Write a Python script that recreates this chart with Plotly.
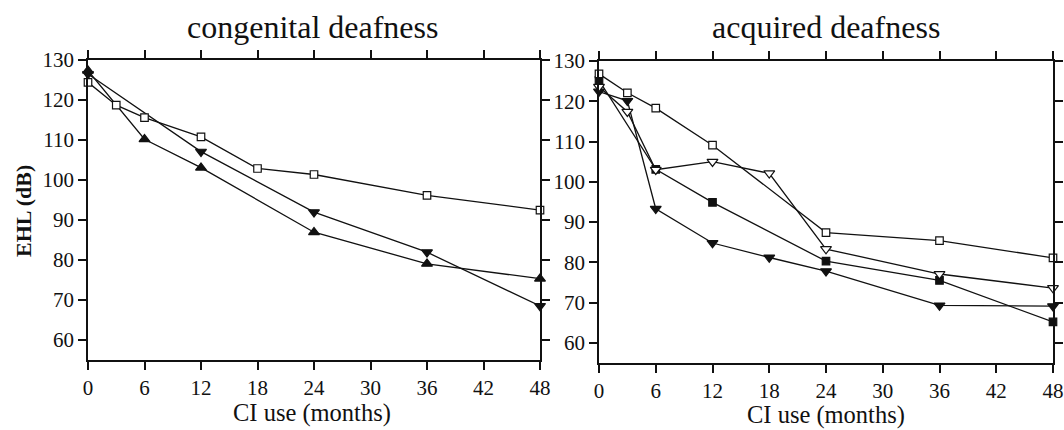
import plotly.graph_objects as go

# Months of CI use and EHL (dB) per group
months_tick = [0, 6, 12, 18, 24, 30, 36, 42, 48]
ehl_tick = [60, 70, 80, 90, 100, 110, 120, 130]

# Congenital deafness
cong_sq_x = [0, 3, 6, 12, 18, 24, 36, 48]
cong_sq_y = [124.3, 118.6, 115.5, 110.7, 102.8, 101.3, 96.1, 92.4]
cong_up_x = [0, 6, 12, 24, 36, 48]
cong_up_y = [127.2, 110.1, 103.0, 86.9, 79.0, 75.3]
cong_dn_x = [0, 12, 24, 36, 48]
cong_dn_y = [126.4, 107.0, 91.9, 81.9, 68.5]

# Acquired deafness
acq_sq_x = [0, 3, 6, 12, 24, 36, 48]
acq_sq_y = [126.8, 122.1, 118.3, 109.1, 87.4, 85.4, 81.1]
acq_odn_x = [0, 3, 6, 12, 18, 24, 36, 48]
acq_odn_y = [123.6, 117.4, 103.0, 105.0, 102.1, 83.3, 77.1, 73.6]
acq_fsq_x = [0, 6, 12, 24, 36, 48]
acq_fsq_y = [125.2, 103.1, 94.9, 80.3, 75.5, 65.2]
acq_fdn_x = [0, 3, 6, 12, 18, 24, 36, 48]
acq_fdn_y = [122.4, 120.1, 93.3, 84.8, 81.2, 77.8, 69.3, 69.1]

FONT = "Liberation Serif, Times New Roman, serif"
INK = "#111111"

fig = go.Figure()


def add(x, y, symbol, size, fill, xa, ya):
    fig.add_trace(go.Scatter(
        x=x, y=y, mode="lines+markers", xaxis=xa, yaxis=ya,
        line=dict(color=INK, width=1.3),
        marker=dict(symbol=symbol, size=size, color=fill,
                    line=dict(color=INK, width=1.2)),
        cliponaxis=False, showlegend=False, hoverinfo="x+y"))


# left panel
add(cong_dn_x, cong_dn_y, "triangle-down", 9.5, INK, "x", "y")
add(cong_up_x, cong_up_y, "triangle-up", 9.5, INK, "x", "y")
add(cong_sq_x, cong_sq_y, "square", 7.5, "white", "x", "y")

# right panel
add(acq_fdn_x, acq_fdn_y, "triangle-down", 9.5, INK, "x2", "y2")
add(acq_fsq_x, acq_fsq_y, "square", 7.5, INK, "x2", "y2")
add(acq_odn_x, acq_odn_y, "triangle-down", 9.5, "white", "x2", "y2")
add(acq_sq_x, acq_sq_y, "square", 7.5, "white", "x2", "y2")

W, H = 1064, 430


def xaxis(lo, hi, anchor):
    return dict(domain=[lo / W, hi / W], range=[0, 48], anchor=anchor,
                tickvals=months_tick, ticks="outside", ticklen=8,
                tickwidth=1.5, tickcolor=INK, showline=True, linecolor=INK,
                linewidth=1.5, mirror="ticks", showgrid=False, zeroline=False,
                automargin=False,
                tickfont=dict(family=FONT, size=21, color=INK))


def yaxis(top, bottom, anchor):
    return dict(domain=[1 - bottom / H, 1 - top / H], range=[55, 130],
                anchor=anchor, tickvals=ehl_tick, ticks="outside", ticklen=8,
                tickwidth=1.5, tickcolor=INK, showline=True, linecolor=INK,
                linewidth=1.5, mirror="ticks", showgrid=False, zeroline=False,
                automargin=False,
                tickfont=dict(family=FONT, size=21, color=INK))


def label(text, px, py, size, angle=0):
    return dict(text=text, x=px / W, y=1 - py / H, xref="paper",
                yref="paper", xanchor="center", yanchor="middle",
                showarrow=False, textangle=angle,
                font=dict(family=FONT, size=size, color=INK))


fig.update_layout(
    width=W, height=H, autosize=False,
    margin=dict(l=0, r=0, t=0, b=0, pad=0, autoexpand=False),
    paper_bgcolor="white", plot_bgcolor="white",
    xaxis=xaxis(88, 540, "y"),
    yaxis=yaxis(59.5, 360, "x"),
    xaxis2=xaxis(599, 1053, "y2"),
    yaxis2=yaxis(61, 363, "x2"),
    annotations=[
        label("congenital deafness", 312, 27, 32),
        label("acquired deafness", 826, 27, 32),
        label("CI use (months)", 312, 413, 24.5),
        label("CI use (months)", 826, 415, 24.5),
        label("<b>EHL (dB)</b>", 23, 211, 22, angle=-90),
    ],
)

fig.write_html("out.html")
